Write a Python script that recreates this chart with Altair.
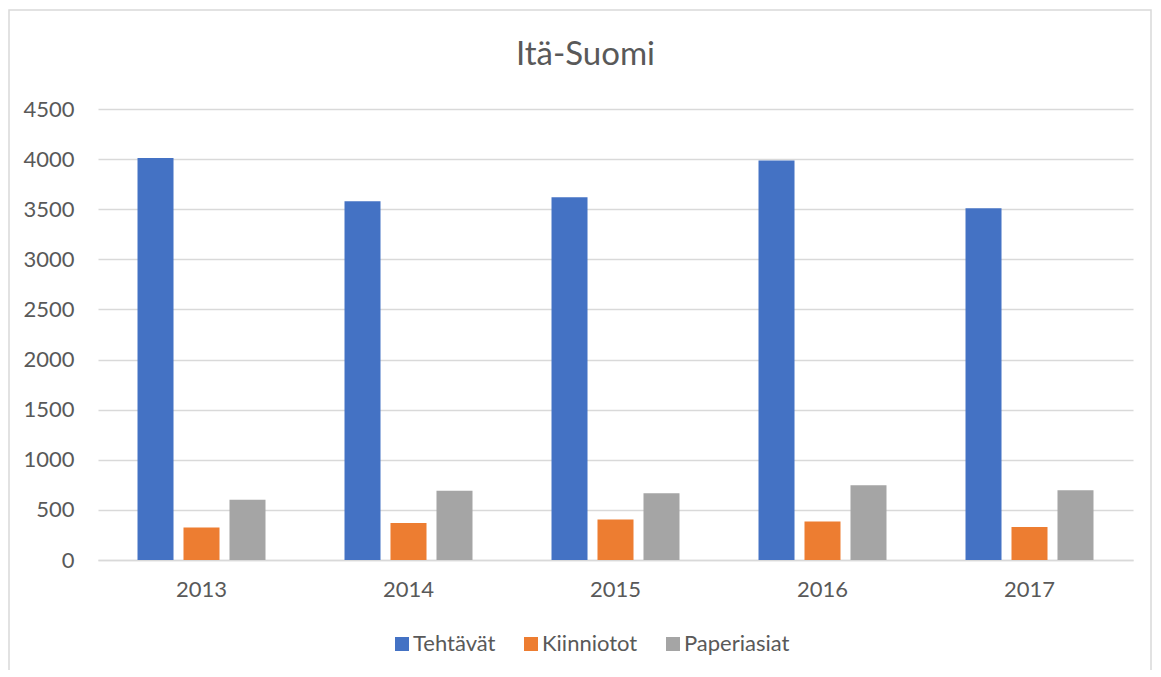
import altair as alt
import pandas as pd

years = ["2013", "2014", "2015", "2016", "2017"]
series = ["Tehtävät", "Kiinniotot", "Paperiasiat"]
tehtavat = [4010, 3580, 3620, 3985, 3510]
kiinniotot = [325, 370, 405, 385, 330]
paperiasiat = [600, 690, 665, 745, 695]
colors = ["#4472C4", "#ED7D31", "#A5A5A5"]

rows = []
for vals, s in zip([tehtavat, kiinniotot, paperiasiat], series):
    for y, v in zip(years, vals):
        rows.append({"Vuosi": y, "Sarja": s, "Arvo": v})
df = pd.DataFrame(rows)

font = "Lato"
text_color = "#595959"
grid_color = "#D9D9D9"

bars = (
    alt.Chart(df)
    .mark_bar()
    .encode(
        x=alt.X(
            "Vuosi:N",
            sort=years,
            scale=alt.Scale(paddingInner=0, paddingOuter=0),
            axis=alt.Axis(
                title=None,
                labelAngle=0,
                ticks=False,
                domainColor=grid_color,
                domainWidth=1.5,
                labelPadding=19,
                labelFontSize=22,
                labelColor=text_color,
                labelFont=font,
            ),
        ),
        xOffset=alt.XOffset(
            "Sarja:N",
            sort=series,
            scale=alt.Scale(paddingInner=0.217, paddingOuter=0.859),
        ),
        y=alt.Y(
            "Arvo:Q",
            scale=alt.Scale(domain=[0, 4500]),
            axis=alt.Axis(
                title=None,
                values=list(range(0, 4501, 500)),
                format="d",
                ticks=False,
                domain=False,
                gridColor=grid_color,
                gridWidth=1.5,
                labelPadding=24,
                labelFontSize=22,
                labelColor=text_color,
                labelFont=font,
            ),
        ),
        color=alt.Color(
            "Sarja:N",
            sort=series,
            scale=alt.Scale(domain=series, range=colors),
            legend=alt.Legend(
                title=None,
                orient="none",
                direction="horizontal",
                legendX=293,
                legendY=524,
                symbolType="square",
                symbolSize=196,
                symbolStrokeWidth=0,
                labelFontSize=22,
                labelColor=text_color,
                labelFont=font,
                labelOffset=0,
                columnPadding=24,
            ),
        ),
    )
)

frame = (
    alt.Chart(pd.DataFrame({"k": [0]}))
    .mark_rect(fill=None, stroke=grid_color, strokeWidth=1.5)
    .encode(
        x=alt.value(-89),
        x2=alt.value(1053),
        y=alt.value(-99),
        y2=alt.value(600),
    )
)

chart = (
    alt.layer(frame, bars)
    .properties(
        width=1035,
        height=451,
        title=alt.TitleParams(
            "Itä-Suomi",
            fontSize=33,
            font=font,
            fontWeight="normal",
            color=text_color,
            offset=-63,
            dx=-30,
        ),
        autosize=alt.AutoSizeParams(type="none"),
        padding={"left": 90, "top": 101, "right": 20, "bottom": 110},
    )
    .configure_view(stroke=None)
)

chart.save("out.html", embed_options={"renderer": "svg", "actions": False})
